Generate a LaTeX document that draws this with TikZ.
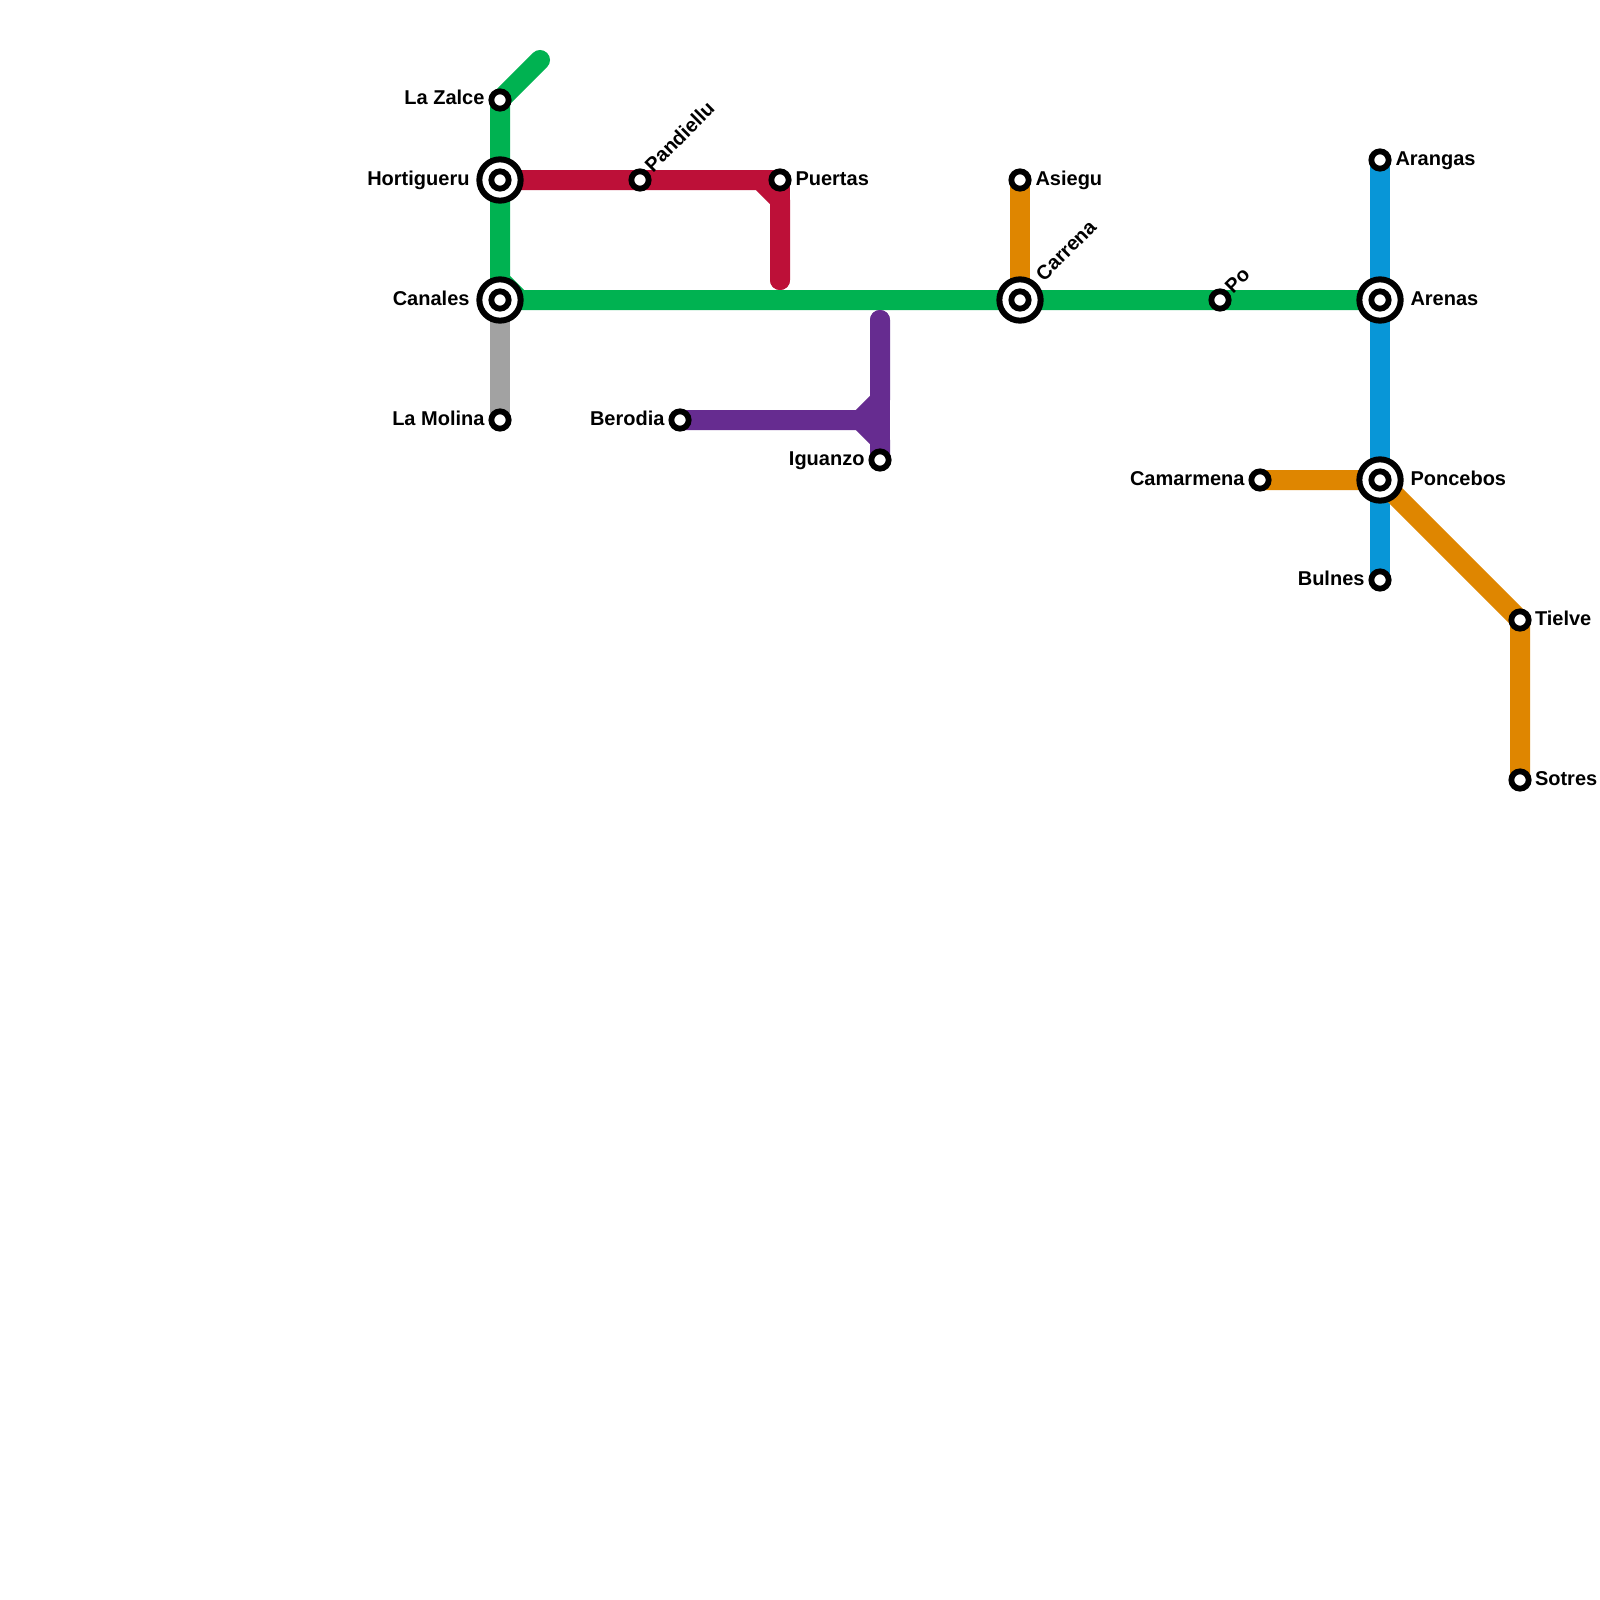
\documentclass[tikz,border=0pt]{standalone}
\usepackage{fontspec}
\setmainfont{Liberation Sans}
\usetikzlibrary{backgrounds}
\definecolor{lgreen}{HTML}{00B251}
\definecolor{lred}{HTML}{BD1038}
\definecolor{lpurple}{HTML}{662C90}
\definecolor{lgray}{HTML}{A2A2A2}
\definecolor{lorange}{HTML}{DF8600}
\definecolor{lblue}{HTML}{0896D7}
\tikzset{
  stop/.style={circle,draw=black,fill=white,line width=5.8pt,inner sep=0pt,outer sep=0pt,minimum size=17.3pt},
  hub/.style={circle,draw=black,fill=white,line width=6pt,inner sep=0pt,outer sep=0pt,minimum size=41.3pt},
  route/.style={line width=20pt,line cap=round,line join=round},
  lab/.style={font=\fontsize{20}{24}\selectfont\bfseries,inner sep=0pt,outer sep=0pt,text=black},
  labl/.style={lab,anchor=base east},
  labr/.style={lab,anchor=base west},
  labd/.style={lab,anchor=base west,rotate=45}
}
\begin{document}
\begin{tikzpicture}[x=1pt,y=-1pt]
\useasboundingbox (0,0) rectangle (1600,1600);
% hubs
\node[hub] (hortH) at (500,180) {}; \node[stop] (hort) at (500,180) {};
\node[hub] (canaH) at (500,300) {}; \node[stop] (cana) at (500,300) {};
\node[hub] (carrH) at (1020,300) {}; \node[stop] (carr) at (1020,300) {};
\node[hub] (areH) at (1380,300) {}; \node[stop] (are) at (1380,300) {};
\node[hub] (ponH) at (1380,480) {}; \node[stop] (pon) at (1380,480) {};
% stops
\node[stop] (zalce) at (500,100) {};
\node[stop] (moli) at (500,420) {};
\node[stop] (pand) at (640,180) {};
\node[stop] (puer) at (780,180) {};
\node[stop] (bero) at (680,420) {};
\node[stop] (igua) at (880,460) {};
\node[stop] (asie) at (1020,180) {};
\node[stop] (po) at (1220,300) {};
\node[stop] (aran) at (1380,160) {};
\node[stop] (cama) at (1260,480) {};
\node[stop] (buln) at (1380,580) {};
\node[stop] (tiel) at (1520,620) {};
\node[stop] (sotr) at (1520,780) {};
% free line ends
\coordinate (gend) at (540,60);
\coordinate (gbend) at (500,280);
\coordinate (gbend2) at (520,300);
\coordinate (rend) at (780,280);
\coordinate (rbend) at (760,180);
\coordinate (rbend2) at (780,200);
\coordinate (ptop) at (880,320);
\coordinate (pj) at (860,420);
\coordinate (pu) at (880,400);
\coordinate (pd) at (880,440);
\begin{pgfonlayer}{background}
\fill[white] (0,0) rectangle (1600,1600);
\draw[route,lgray] (cana.center) -- (moli.center);
\draw[route,lred] (hort.center) -- (rbend) -- (rbend2) -- (rend);
\draw[route,lred] (pand.center) -- (puer.center) -- (rend);
\draw[route,lblue] (aran.center) -- (buln.center);
\draw[route,lorange] (asie.center) -- (carr.center);
\draw[route,lgreen] (gend) -- (zalce.center) -- (gbend) -- (gbend2) -- (are.center);
\draw[route,lorange] (cama.center) -- (pon.center) -- (tiel.center) -- (sotr.center);
\draw[route,lpurple] (bero.center) -- (pj) -- (pu) -- (ptop);
\draw[route,lpurple] (ptop) -- (igua.center);
\draw[route,lpurple] (pj) -- (pd) -- (igua.center);
\end{pgfonlayer}
% labels
\node[labl] (tzalce) at (484.5,105) {La Zalce};
\node[labl] (thort) at (469.5,185) {Hortigueru};
\node[labl] (tcana) at (469.5,305) {Canales};
\node[labl] (tmoli) at (484.5,425) {La Molina};
\node[labl] (tbero) at (664.5,425) {Berodia};
\node[labl] (tigua) at (864.5,465) {Iguanzo};
\node[labl] (tcama) at (1244.5,485) {Camarmena};
\node[labl] (tbuln) at (1364.5,585) {Bulnes};
\node[labr] (tpuer) at (795.5,185) {Puertas};
\node[labr] (tasie) at (1035.5,185) {Asiegu};
\node[labr] (taran) at (1395.5,165) {Arangas};
\node[labr] (tare) at (1410.5,305) {Arenas};
\node[labr] (tpon) at (1410.5,485) {Poncebos};
\node[labr] (ttiel) at (1535,625) {Tielve};
\node[labr] (tsotr) at (1535,785) {Sotres};
\node[labd] (tpand) at (653,173) {Pandiellu};
\node[labd] (tcarr) at (1044,282) {Carrena};
\node[labd] (tpo) at (1233,294) {Po};
\end{tikzpicture}
\end{document}
